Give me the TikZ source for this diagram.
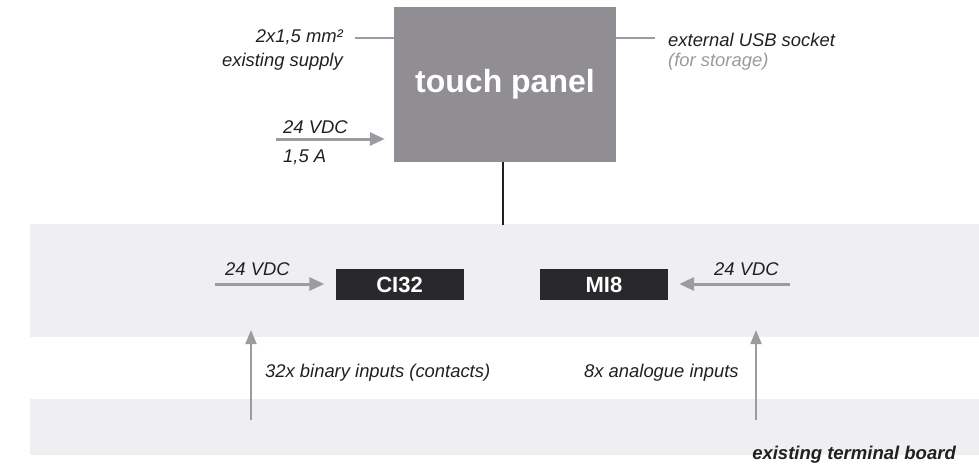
\documentclass[tikz,border=0pt]{standalone}
\usepackage{fontspec}
\setmainfont{Liberation Sans}
\usetikzlibrary{arrows.meta}
\definecolor{panelgray}{HTML}{908E93}
\definecolor{boxdark}{HTML}{29282B}
\definecolor{bandgray}{HTML}{EFEFF1}
\definecolor{linegray}{HTML}{9C9B9F}
\definecolor{txtdark}{HTML}{231F20}
\definecolor{txtgray}{HTML}{9A999D}
\tikzset{
  lbl/.style={inner sep=0pt, font=\fontsize{18.4}{21}\selectfont\itshape, text=txtdark},
  lblgray/.style={lbl, text=txtgray},
  module/.style={fill=boxdark, text=white, font=\fontsize{22}{24}\selectfont\bfseries, minimum width=128pt, minimum height=31pt, inner sep=0pt},
  feed/.style={draw=linegray, line width=3pt, -{Triangle[length=15pt,width=13pt]}},
  sig/.style={draw=linegray, line width=2.2pt, -{Triangle[length=14pt,width=11pt]}},
  wire/.style={draw=linegray, line width=2pt},
}
\begin{document}
\begin{tikzpicture}[x=1pt,y=-1pt]
\useasboundingbox (0,0) rectangle (979,467);
% background bands
\fill[bandgray] (30,224) rectangle (979,337);
\fill[bandgray] (30,399) rectangle (979,455);
% touch panel
\node[fill=panelgray, text=white, font=\fontsize{32}{36}\selectfont\bfseries, minimum width=222pt, minimum height=155pt, inner sep=0pt] (panel) at (505,84.5) {touch panel};
% modules
\node[module] (ci) at (399.5,284.5) {CI32};
\node[module] (mi) at (604,284.5) {MI8};
% bus line
\coordinate (busTop) at (503,224.5);
\draw[txtdark, line width=2pt] (panel.south -| busTop) -- (busTop);
% top-left supply
\coordinate (supL) at (355,38);
\draw[wire] (supL) -- (supL -| panel.west);
\node[lbl, anchor=east] (sup1) at (343,37) {2x1,5 mm²};
\node[lbl, anchor=east] (sup2) at (343,62) {existing supply};
% top-left 24 VDC
\coordinate (pwrL) at (276,139);
\draw[feed] (pwrL) -- ([xshift=-9pt]panel.west |- pwrL);
\node[lbl, anchor=west] (pwr1) at (283,127) {24 VDC};
\node[lbl, anchor=west] (pwr2) at (283,157) {1,5 A};
% USB
\coordinate (usbR) at (655,38);
\draw[wire] (usbR -| panel.east) -- (usbR);
\node[lbl, anchor=west] (usb1) at (668,40) {external USB socket};
\node[lblgray, anchor=west] (usb2) at (668,62) {(for storage)};
% module supplies
\coordinate (ciL) at (215,284);
\draw[feed] (ciL) -- ([xshift=-11pt]ci.west |- ciL);
\node[lbl, anchor=west] (civ) at (225,269) {24 VDC};
\coordinate (miR) at (790,284);
\draw[feed] (miR) -- ([xshift=11pt]mi.east |- miR);
\node[lbl, anchor=west] (miv) at (714,269) {24 VDC};
% inputs
\coordinate (inA0) at (251,420);
\coordinate (inA1) at (251,330);
\draw[sig] (inA0) -- (inA1);
\node[lbl, anchor=west] (inAt) at (265,373) {32x binary inputs (contacts)};
\coordinate (inB0) at (756,420);
\coordinate (inB1) at (756,330);
\draw[sig] (inB0) -- (inB1);
\node[lbl, anchor=west] (inBt) at (584,373) {8x analogue inputs};
% terminal board
\node[lbl, font=\fontsize{18.5}{21}\selectfont\bfseries\itshape, anchor=east] (tb) at (956,455) {existing terminal board};
\end{tikzpicture}
\end{document}
